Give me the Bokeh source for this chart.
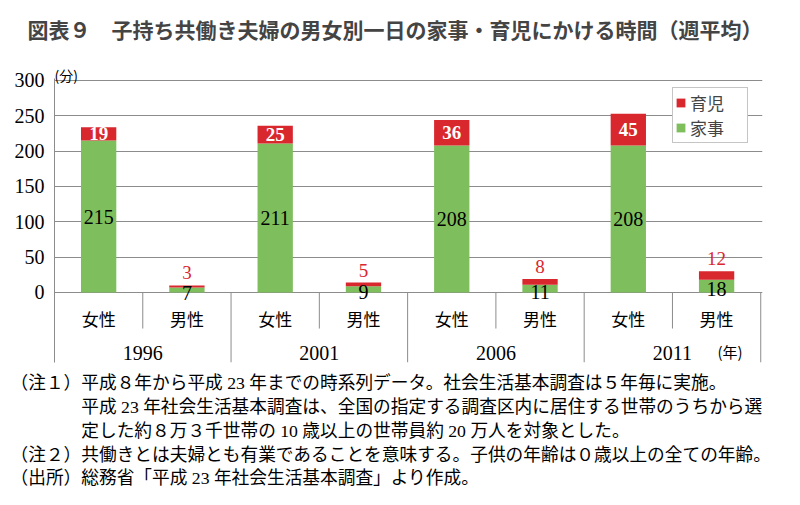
from bokeh.plotting import figure
from bokeh.models import ColumnDataSource, Label, Legend, LegendItem, FixedTicker, Range1d, Title
from bokeh.core.properties import value
from bokeh.embed import file_html
from bokeh.resources import INLINE

# ---------------- data ----------------
years = ["1996", "2001", "2006", "2011"]
sexes = ["女性", "男性"]
kaji = [215, 7, 211, 9, 208, 11, 208, 18]      # 家事
ikuji = [19, 3, 25, 5, 36, 8, 45, 12]          # 育児
y_ticks = [0, 50, 100, 150, 200, 250, 300]
series_names = ["育児", "家事"]
title_text = "図表９　子持ち共働き夫婦の男女別一日の家事・育児にかける時間（週平均）"
unit_y = "(分)"
unit_x = "(年)"
note_lines = [
    "（注１）平成８年から平成 23 年までの時系列データ。社会生活基本調査は５年毎に実施。",
    "　　　　平成 23 年社会生活基本調査は、全国の指定する調査区内に居住する世帯のうちから選",
    "　　　　定した約８万３千世帯の 10 歳以上の世帯員約 20 万人を対象とした。",
    "（注２）共働きとは夫婦とも有業であることを意味する。子供の年齢は０歳以上の全ての年齢。",
    "（出所）総務省「平成 23 年社会生活基本調査」より作成。",
]

GREEN = "#7EBE5C"
RED = "#D9272E"
GRID = "#8C8C8C"
JP = "Noto Sans CJK JP"
SERIF = "Liberation Serif"
MIX = "Liberation Serif, Noto Sans CJK JP"

n = len(kaji)
xs = [i + 0.5 for i in range(n)]
total = [a + b for a, b in zip(kaji, ikuji)]
sex_labels = [sexes[i % 2] for i in range(n)]

Y0 = -99.06
Y1 = 319.8

p = figure(width=784, height=502, output_backend="svg", toolbar_location=None,
           x_range=Range1d(0, 8.02), y_range=Range1d(Y0, Y1),
           x_axis_type=None, min_border_left=54, min_border_right=22,
           min_border_top=66, min_border_bottom=140)
p.outline_line_color = None
p.background_fill_color = "white"
p.border_fill_color = "white"
p.xgrid.visible = False

p.title.text = title_text
p.title.text_font = JP
p.title.text_font_size = "21px"
p.title.text_font_style = "bold"
p.title.align = "left"
p.title.offset = -27
p.title.standoff = 10

# thin spacer between the title and the plot frame
p.add_layout(Title(text=" ", text_font_size="1px", standoff=15), "above")

yax = p.yaxis[0]
yax.ticker = FixedTicker(ticks=y_ticks)
yax.bounds = (Y0, 302.5)
yax.axis_line_color = GRID
yax.major_tick_out = 0
yax.major_tick_in = 0
yax.minor_tick_out = 0
yax.minor_tick_in = 0
yax.major_label_standoff = 10
yax.major_label_text_font = SERIF
yax.major_label_text_font_size = "20px"
yax.major_label_text_color = "black"

p.ygrid.ticker = FixedTicker(ticks=y_ticks)
p.ygrid.grid_line_color = GRID
p.ygrid.grid_line_width = 1

src = ColumnDataSource(dict(x=xs, kaji=kaji, ikuji=ikuji, total=total))
r_kaji = p.vbar(x="x", bottom=0, top="kaji", width=0.4, source=src,
                fill_color=GREEN, line_color=None)
r_ikuji = p.vbar(x="x", bottom="kaji", top="total", width=0.4, source=src,
                 fill_color=RED, line_color=None)

# separators below the axis
full_x = [2 * (g + 1) for g in range(len(years))]
half_x = [2 * g + 1 for g in range(len(years))]
p.segment(x0=full_x, x1=full_x, y0=[0] * len(full_x), y1=[Y0] * len(full_x),
          line_color=GRID, line_width=1)
p.segment(x0=half_x, x1=half_x, y0=[0] * len(half_x), y1=[-51] * len(half_x),
          line_color=GRID, line_width=1)

# category labels
p.text(x=xs, y=[-36.5] * n, text=sex_labels, text_font=value(JP),
       text_font_size="17px", text_align="center", text_baseline="middle",
       text_color="black")
p.text(x=[2 * g + 1 for g in range(len(years))], y=[-86] * len(years), text=years,
       text_font=value(SERIF), text_font_size="20px", text_align="center",
       text_baseline="middle", text_color="black")

# value labels
w_idx = list(range(0, n, 2))
m_idx = list(range(1, n, 2))
p.text(x=[xs[i] for i in w_idx], y=[kaji[i] / 2 for i in w_idx],
       text=[str(kaji[i]) for i in w_idx], text_font=value(SERIF),
       text_font_size="20px", text_align="center", text_baseline="middle",
       text_color="black")
p.text(x=[xs[i] for i in w_idx], y=[kaji[i] + ikuji[i] / 2 for i in w_idx],
       text=[str(ikuji[i]) for i in w_idx], text_font=value(SERIF),
       text_font_size="19px", text_font_style="bold", text_align="center",
       text_baseline="middle", text_color="white")
p.text(x=[xs[i] for i in m_idx], y=[kaji[i] / 2 for i in m_idx],
       text=[str(kaji[i]) for i in m_idx], text_font=value(SERIF),
       text_font_size="20px", text_align="center", text_baseline="middle",
       text_color="black", y_offset=3)
p.text(x=[xs[i] for i in m_idx], y=[total[i] for i in m_idx],
       text=[str(ikuji[i]) for i in m_idx], text_font=value(SERIF),
       text_font_size="19px", text_align="center", text_baseline="bottom",
       text_color=RED, y_offset=-6)

# units (inside the frame)
p.add_layout(Label(x=0, y=288, x_units="screen", y_units="screen", text=unit_y,
                   text_font=JP, text_font_size="14px", text_baseline="middle",
                   text_color="black"))
p.add_layout(Label(x=663, y=11, x_units="screen", y_units="screen", text=unit_x,
                   text_font=JP, text_font_size="15px", text_baseline="middle",
                   text_color="black"))

# legend
legend = Legend(items=[LegendItem(label=series_names[0], renderers=[r_ikuji]),
                       LegendItem(label=series_names[1], renderers=[r_kaji])],
                location=(618, 219), orientation="vertical")
legend.label_text_font = JP
legend.label_text_font_size = "17px"
legend.label_text_line_height = 0.8
legend.glyph_width = 11
legend.glyph_height = 11
legend.label_standoff = 4
legend.padding = 2
legend.spacing = 0
legend.label_width = 55
legend.border_line_color = GRID
legend.border_line_width = 1
legend.background_fill_alpha = 1
legend.margin = 0
p.add_layout(legend)

# notes below
notes = Title(text="\n".join(note_lines), align="left", offset=-44, standoff=18,
              text_font=MIX, text_font_size="17.7px", text_font_style="normal",
              text_line_height=1.19, text_color="black")
p.add_layout(notes, "below")

open("out.html", "w").write(file_html(p, INLINE))
